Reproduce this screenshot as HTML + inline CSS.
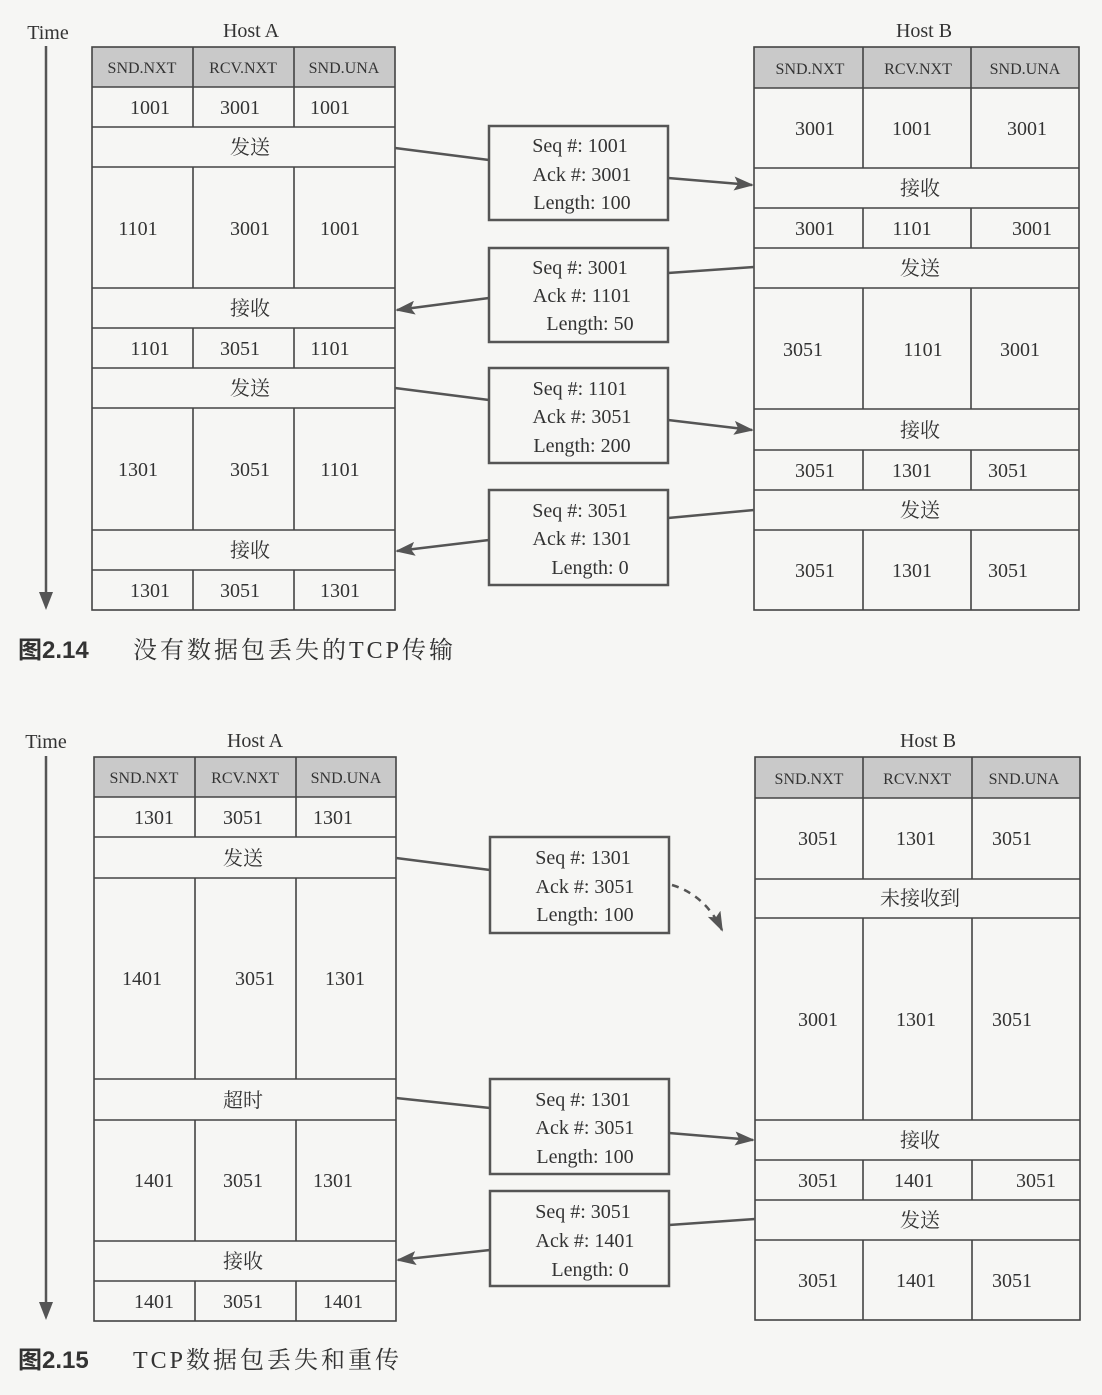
<!DOCTYPE html>
<html><head><meta charset="utf-8"><style>
body{margin:0;background:#f6f6f4;}
svg{display:block}
text{font-family:"Liberation Serif","Noto Serif CJK SC",serif;fill:#333;font-size:20px;text-anchor:middle}
.h{font-size:16px}
.cap{font-family:"Liberation Sans","Noto Sans CJK SC",sans-serif;font-size:24px;text-anchor:start}
.capt{font-family:"Liberation Serif","Noto Serif CJK SC",serif;font-size:24px;text-anchor:start;letter-spacing:3px}
.l{stroke:#444;stroke-width:1.6;fill:none}
.a{stroke:#555;stroke-width:2.5;fill:none}
</style></head><body>
<svg width="1102" height="1395" viewBox="0 0 1102 1395">
<defs>
<marker id="mb" markerWidth="20" markerHeight="14" refX="18" refY="7" orient="auto" markerUnits="userSpaceOnUse"><path d="M0,0L20,7L0,14L4,7z" fill="#555"/></marker></defs>

<!-- ===== Figure 1 ===== -->
<text x="48" y="39">Time</text>
<line x1="46" y1="46" x2="46" y2="600" class="a"/><path d="M39,592L46,610L53,592z" fill="#555"/>
<text x="251" y="37">Host A</text><text x="924" y="37">Host B</text>

<rect x="92" y="47" width="303" height="40" fill="#c9c9c9"/>
<rect x="92" y="47" width="303" height="563" class="l"/>
<g class="l">
<line x1="92" y1="87" x2="395" y2="87"/><line x1="92" y1="127" x2="395" y2="127"/><line x1="92" y1="167" x2="395" y2="167"/>
<line x1="92" y1="288" x2="395" y2="288"/><line x1="92" y1="328" x2="395" y2="328"/><line x1="92" y1="368" x2="395" y2="368"/>
<line x1="92" y1="408" x2="395" y2="408"/><line x1="92" y1="530" x2="395" y2="530"/><line x1="92" y1="570" x2="395" y2="570"/>
<path d="M193,47V127M294,47V127M193,167V288M294,167V288M193,328V368M294,328V368M193,408V530M294,408V530M193,570V610M294,570V610"/>
</g>
<text class="h" x="142" y="73">SND.NXT</text><text class="h" x="243" y="73">RCV.NXT</text><text class="h" x="344" y="73">SND.UNA</text>
<text x="150" y="114">1001</text><text x="240" y="114">3001</text><text x="330" y="114">1001</text>
<text x="250" y="154">发送</text>
<text x="138" y="235">1101</text><text x="250" y="235">3001</text><text x="340" y="235">1001</text>
<text x="250" y="315">接收</text>
<text x="150" y="355">1101</text><text x="240" y="355">3051</text><text x="330" y="355">1101</text>
<text x="250" y="395">发送</text>
<text x="138" y="476">1301</text><text x="250" y="476">3051</text><text x="340" y="476">1101</text>
<text x="250" y="557">接收</text>
<text x="150" y="597">1301</text><text x="240" y="597">3051</text><text x="340" y="597">1301</text>

<rect x="754" y="47" width="325" height="41" fill="#c9c9c9"/>
<rect x="754" y="47" width="325" height="563" class="l"/>
<g class="l">
<line x1="754" y1="88" x2="1079" y2="88"/><line x1="754" y1="168" x2="1079" y2="168"/><line x1="754" y1="208" x2="1079" y2="208"/>
<line x1="754" y1="248" x2="1079" y2="248"/><line x1="754" y1="288" x2="1079" y2="288"/><line x1="754" y1="409" x2="1079" y2="409"/>
<line x1="754" y1="450" x2="1079" y2="450"/><line x1="754" y1="490" x2="1079" y2="490"/><line x1="754" y1="530" x2="1079" y2="530"/>
<path d="M863,47V168M971,47V168M863,208V248M971,208V248M863,288V409M971,288V409M863,450V490M971,450V490M863,530V610M971,530V610"/>
</g>
<text class="h" x="810" y="74">SND.NXT</text><text class="h" x="918" y="74">RCV.NXT</text><text class="h" x="1025" y="74">SND.UNA</text>
<text x="815" y="135">3001</text><text x="912" y="135">1001</text><text x="1027" y="135">3001</text>
<text x="920" y="195">接收</text>
<text x="815" y="235">3001</text><text x="912" y="235">1101</text><text x="1032" y="235">3001</text>
<text x="920" y="275">发送</text>
<text x="803" y="356">3051</text><text x="923" y="356">1101</text><text x="1020" y="356">3001</text>
<text x="920" y="437">接收</text>
<text x="815" y="477">3051</text><text x="912" y="477">1301</text><text x="1008" y="477">3051</text>
<text x="920" y="517">发送</text>
<text x="815" y="577">3051</text><text x="912" y="577">1301</text><text x="1008" y="577">3051</text>

<g class="a">
<rect x="489" y="126" width="179" height="94"/><rect x="489" y="248" width="179" height="94"/>
<rect x="489" y="368" width="179" height="95"/><rect x="489" y="490" width="179" height="95"/>
<line x1="395" y1="148" x2="489" y2="160"/><line x1="668" y1="178" x2="752" y2="185" marker-end="url(#mb)"/>
<line x1="754" y1="267" x2="668" y2="273"/><line x1="489" y1="298" x2="397" y2="310" marker-end="url(#mb)"/>
<line x1="395" y1="388" x2="489" y2="400"/><line x1="668" y1="420" x2="752" y2="430" marker-end="url(#mb)"/>
<line x1="754" y1="510" x2="668" y2="518"/><line x1="489" y1="540" x2="397" y2="551" marker-end="url(#mb)"/>
</g>
<text x="580" y="152">Seq #: 1001</text><text x="582" y="181">Ack #: 3001</text><text x="582" y="209">Length: 100</text>
<text x="580" y="274">Seq #: 3001</text><text x="582" y="302">Ack #: 1101</text><text x="590" y="330">Length: 50</text>
<text x="580" y="395">Seq #: 1101</text><text x="582" y="423">Ack #: 3051</text><text x="582" y="452">Length: 200</text>
<text x="580" y="517">Seq #: 3051</text><text x="582" y="545">Ack #: 1301</text><text x="590" y="574">Length: 0</text>

<text class="cap" x="18" y="658" style="font-weight:bold">图2.14</text>
<text class="capt" x="133" y="658">没有数据包丢失的TCP传输</text>

<!-- ===== Figure 2 ===== -->
<text x="46" y="748">Time</text>
<line x1="46" y1="756" x2="46" y2="1310" class="a"/><path d="M39,1302L46,1320L53,1302z" fill="#555"/>
<text x="255" y="747">Host A</text><text x="928" y="747">Host B</text>

<rect x="94" y="757" width="302" height="40" fill="#c9c9c9"/>
<rect x="94" y="757" width="302" height="564" class="l"/>
<g class="l">
<line x1="94" y1="797" x2="396" y2="797"/><line x1="94" y1="837" x2="396" y2="837"/><line x1="94" y1="878" x2="396" y2="878"/>
<line x1="94" y1="1079" x2="396" y2="1079"/><line x1="94" y1="1120" x2="396" y2="1120"/><line x1="94" y1="1241" x2="396" y2="1241"/>
<line x1="94" y1="1281" x2="396" y2="1281"/>
<path d="M195,757V837M296,757V837M195,878V1079M296,878V1079M195,1120V1241M296,1120V1241M195,1281V1321M296,1281V1321"/>
</g>
<text class="h" x="144" y="783">SND.NXT</text><text class="h" x="245" y="783">RCV.NXT</text><text class="h" x="346" y="783">SND.UNA</text>
<text x="154" y="824">1301</text><text x="243" y="824">3051</text><text x="333" y="824">1301</text>
<text x="243" y="865">发送</text>
<text x="142" y="985">1401</text><text x="255" y="985">3051</text><text x="345" y="985">1301</text>
<text x="243" y="1107">超时</text>
<text x="154" y="1187">1401</text><text x="243" y="1187">3051</text><text x="333" y="1187">1301</text>
<text x="243" y="1268">接收</text>
<text x="154" y="1308">1401</text><text x="243" y="1308">3051</text><text x="343" y="1308">1401</text>

<rect x="755" y="757" width="325" height="41" fill="#c9c9c9"/>
<rect x="755" y="757" width="325" height="563" class="l"/>
<g class="l">
<line x1="755" y1="798" x2="1080" y2="798"/><line x1="755" y1="879" x2="1080" y2="879"/><line x1="755" y1="918" x2="1080" y2="918"/>
<line x1="755" y1="1120" x2="1080" y2="1120"/><line x1="755" y1="1160" x2="1080" y2="1160"/><line x1="755" y1="1200" x2="1080" y2="1200"/>
<line x1="755" y1="1240" x2="1080" y2="1240"/>
<path d="M863,757V879M972,757V879M863,918V1120M972,918V1120M863,1160V1200M972,1160V1200M863,1240V1320M972,1240V1320"/>
</g>
<text class="h" x="809" y="784">SND.NXT</text><text class="h" x="917" y="784">RCV.NXT</text><text class="h" x="1024" y="784">SND.UNA</text>
<text x="818" y="845">3051</text><text x="916" y="845">1301</text><text x="1012" y="845">3051</text>
<text x="920" y="905">未接收到</text>
<text x="818" y="1026">3001</text><text x="916" y="1026">1301</text><text x="1012" y="1026">3051</text>
<text x="920" y="1147">接收</text>
<text x="818" y="1187">3051</text><text x="914" y="1187">1401</text><text x="1036" y="1187">3051</text>
<text x="920" y="1227">发送</text>
<text x="818" y="1287">3051</text><text x="916" y="1287">1401</text><text x="1012" y="1287">3051</text>

<g class="a">
<rect x="490" y="837" width="179" height="96"/><rect x="490" y="1079" width="179" height="95"/><rect x="490" y="1191" width="179" height="95"/>
<line x1="396" y1="858" x2="490" y2="870"/>
<path d="M672,885Q705,895 722,930" stroke-dasharray="7,6" marker-end="url(#mb)"/>
<line x1="396" y1="1098" x2="490" y2="1108"/><line x1="669" y1="1133" x2="753" y2="1140" marker-end="url(#mb)"/>
<line x1="755" y1="1219" x2="669" y2="1225"/><line x1="490" y1="1250" x2="398" y2="1260" marker-end="url(#mb)"/>
</g>
<text x="583" y="864">Seq #: 1301</text><text x="585" y="893">Ack #: 3051</text><text x="585" y="921">Length: 100</text>
<text x="583" y="1106">Seq #: 1301</text><text x="585" y="1134">Ack #: 3051</text><text x="585" y="1163">Length: 100</text>
<text x="583" y="1218">Seq #: 3051</text><text x="585" y="1247">Ack #: 1401</text><text x="590" y="1276">Length: 0</text>

<text class="cap" x="18" y="1368" style="font-weight:bold">图2.15</text>
<text class="capt" x="133" y="1368">TCP数据包丢失和重传</text>
</svg>
</body></html>
